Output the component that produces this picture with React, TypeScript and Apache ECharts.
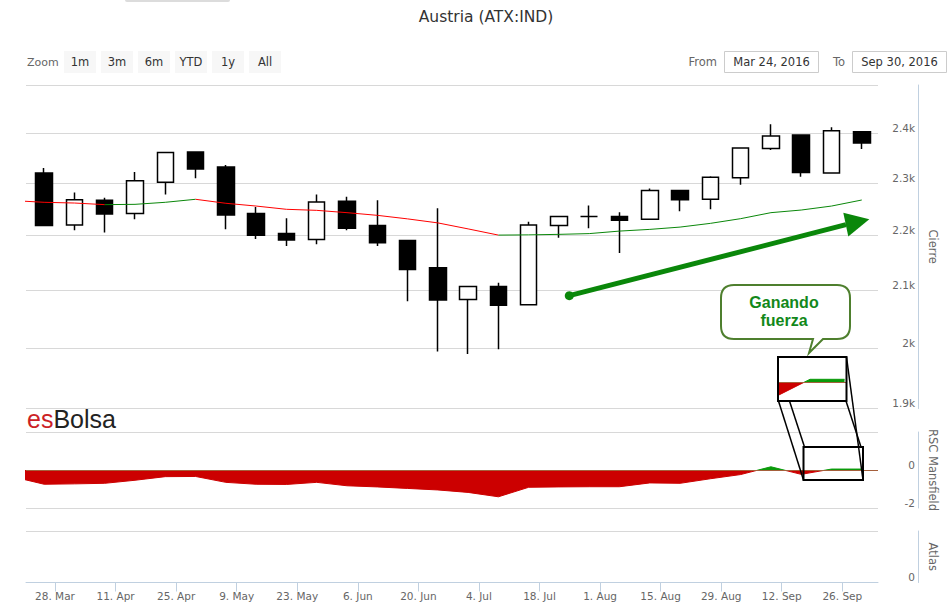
import React, { useEffect, useRef } from 'react';
import * as echarts from 'echarts';

// ---------- data ----------
const weekEnds = [
  '2016-03-25', '2016-04-01', '2016-04-08', '2016-04-15', '2016-04-22', '2016-04-29',
  '2016-05-06', '2016-05-13', '2016-05-20', '2016-05-27', '2016-06-03', '2016-06-10',
  '2016-06-17', '2016-06-24', '2016-07-01', '2016-07-08', '2016-07-15', '2016-07-22',
  '2016-07-29', '2016-08-05', '2016-08-12', '2016-08-19', '2016-08-26', '2016-09-02',
  '2016-09-09', '2016-09-16', '2016-09-23', '2016-09-30',
];
const prevWeek = '2016-03-18';

const openVals = [2320, 2220, 2267, 2242, 2302, 2362, 2332, 2242, 2204, 2193, 2265, 2219, 2191, 2141, 2084, 2107, 2075, 2219, 2236, 2236, 2231, 2286, 2269, 2311, 2369, 2396, 2320, 2403];
const closeVals = [2219, 2268, 2241, 2305, 2361, 2328, 2239, 2201, 2192, 2264, 2214, 2187, 2138, 2083, 2107, 2074, 2220, 2236, 2236, 2229, 2286, 2268, 2312, 2370, 2394, 2321, 2405, 2380];
const lowVals = [2219, 2210, 2206, 2231, 2278, 2310, 2212, 2194, 2181, 2184, 2210, 2181, 2081, 1994, 1990, 1998, 2075, 2196, 2214, 2168, 2230, 2246, 2250, 2297, 2366, 2313, 2319, 2368];
const highVals = [2330, 2282, 2272, 2322, 2361, 2362, 2336, 2254, 2233, 2278, 2274, 2267, 2191, 2252, 2108, 2114, 2226, 2237, 2257, 2244, 2290, 2286, 2314, 2370, 2418, 2396, 2412, 2404];

// moving average (first value = previous week, off the left edge)
const maVals = [2266.4, 2263.2, 2261.8, 2258.7, 2259.3, 2263.2, 2269.0, 2261.3, 2256.0, 2249.8, 2247.8, 2243.4, 2238.3, 2231.6, 2224.0, 2212.7, 2201.1, 2201.5, 2202.5, 2203.9, 2208.6, 2211.8, 2216.1, 2223.1, 2232.0, 2243.4, 2248.4, 2256.0, 2267.6];

// RSC Mansfield (first value = previous week)
const rscVals = [-0.37, -0.75, -0.73, -0.70, -0.54, -0.35, -0.34, -0.65, -0.75, -0.76, -0.65, -0.83, -0.89, -0.97, -1.05, -1.18, -1.41, -0.91, -0.89, -0.88, -0.88, -0.68, -0.70, -0.46, -0.24, 0.17, -0.23, 0.05, 0.05];

const xTickDates = ['2016-03-28', '2016-04-11', '2016-04-25', '2016-05-09', '2016-05-23', '2016-06-06', '2016-06-20', '2016-07-04', '2016-07-18', '2016-08-01', '2016-08-15', '2016-08-29', '2016-09-12', '2016-09-26'];
const priceTicks = [1900, 2000, 2100, 2200, 2300, 2400, 2500];
const priceLabels = [1900, 2000, 2100, 2200, 2300, 2400];
const rscTicks = [-2, 0, 2];
const rscLabels = [-2, 0];
const atlasTicks = [0, 1];
const atlasLabels = [0];
const zoomButtons = ['1m', '3m', '6m', 'YTD', '1y', 'All'];
const fromDate = 'Mar 24, 2016';
const toDate = 'Sep 30, 2016';
const chartTitle = 'Austria (ATX:IND)';
const months = ['Jan', 'Feb', 'Mar', 'Apr', 'May', 'Jun', 'Jul', 'Aug', 'Sep', 'Oct', 'Nov', 'Dec'];

// ---------- helpers ----------
const DAY = 864e5;
const ORIGIN = Date.parse('2016-03-28');
const dayOf = (s: string) => (Date.parse(s) - ORIGIN) / DAY;
const midDay = (s: string) => dayOf(s) + 0.5;
const ln = Math.log;

const X_MIN = -6.7;
const X_MAX = 190.25;
const INSET_X: [number, number] = [173.0, 186.9];
const INSET_Y: [number, number] = [-0.3, 0.41];

const UP_GREEN = '#0a870a';
const DOWN_RED = '#ff0000';
const AXIS_BLUE = '#C0D0E0';
const GRID_GRAY = '#D8D8D8';
const LABEL = '#666666';
const FONT = 'DejaVu Sans';

const bubblePath =
  'M734,285 L837,285 Q850,285 850,298 L850,326 Q850,339 837,339 L823,339 L809,353 L813,339 L734,339 Q721,339 721,326 L721,298 Q721,285 734,285 Z';
echarts.graphic.registerShape('bubble', echarts.graphic.extendPath(bubblePath, {}) as any);

function buildOption(): any {
  const allWeeks = [prevWeek, ...weekEnds];
  const candles = weekEnds.map((d, i) => [midDay(d), ln(openVals[i]), ln(closeVals[i]), ln(lowVals[i]), ln(highVals[i])]);
  const maPts = allWeeks.map((d, i) => [midDay(d), ln(maVals[i])]);
  const rscPts = allWeeks.map((d, i) => [midDay(d), rscVals[i]]);

  const runs: { up: boolean; pts: number[][] }[] = [];
  for (let i = 0; i < maPts.length - 1; i++) {
    const up = maVals[i + 1] >= maVals[i];
    const last = runs[runs.length - 1];
    if (last && last.up === up) last.pts.push(maPts[i + 1]);
    else runs.push({ up, pts: [maPts[i], maPts[i + 1]] });
  }

  const tickDays = xTickDates.map(dayOf);
  const fmtDate = (v: number) => {
    const d = new Date(ORIGIN + Math.round(v) * DAY);
    return `${d.getUTCDate()}. ${months[d.getUTCMonth()]}`;
  };
  const fmtK = (v: number) => `${Math.round(Math.exp(v) / 100) / 10}k`;

  const yCommon = (name: string) => ({
    type: 'value',
    position: 'right',
    offset: 40,
    axisLine: { show: true, onZero: false, lineStyle: { color: AXIS_BLUE, width: 1 } },
    splitLine: { show: true, lineStyle: { color: GRID_GRAY, width: 1 } },
    name,
    nameLocation: 'middle',
    nameRotate: -90,
    nameGap: 8,
    nameTextStyle: { color: LABEL, fontSize: 11.5, fontFamily: FONT },
  });
  const labelCommon = {
    inside: true,
    color: LABEL,
    fontSize: 10.5,
    fontFamily: FONT,
    margin: 3,
    verticalAlign: 'bottom',
    showMinLabel: true,
    showMaxLabel: true,
  };

  const series: any[] = [];
  series.push({
    type: 'candlestick',
    xAxisIndex: 0,
    yAxisIndex: 0,
    data: candles,
    barWidth: 17,
    itemStyle: {
      color: '#ffffff',
      color0: '#000000',
      borderColor: '#000000',
      borderColor0: '#000000',
      borderColorDoji: '#000000',
      borderWidth: 1.5,
    },
    silent: true,
  });
  runs.forEach((r) => {
    series.push({
      type: 'line',
      xAxisIndex: 0,
      yAxisIndex: 0,
      data: r.pts,
      symbol: 'none',
      silent: true,
      lineStyle: { color: r.up ? UP_GREEN : DOWN_RED, width: 1 },
      z: 3,
    });
  });
  const zeroMark = () => ({
    silent: true,
    symbol: 'none',
    label: { show: false },
    lineStyle: { color: '#a5603c', width: 1, type: 'solid' },
    data: [{ yAxis: 0 }],
  });
  const rscIdx = series.length;
  series.push({
    type: 'line',
    xAxisIndex: 1,
    yAxisIndex: 1,
    data: rscPts,
    symbol: 'none',
    silent: true,
    lineStyle: { width: 1 },
    areaStyle: { origin: 0, opacity: 1 },
    markLine: zeroMark(),
  });
  const insetIdx = series.length;
  series.push({
    type: 'line',
    xAxisIndex: 3,
    yAxisIndex: 3,
    data: rscPts,
    symbol: 'none',
    silent: true,
    lineStyle: { width: 1 },
    areaStyle: { origin: 0, opacity: 1 },
    markLine: zeroMark(),
  });

  // ----- graphics (annotations and page chrome) -----
  const g: any[] = [];
  g.push({ type: 'rect', shape: { x: 125, y: -3, width: 105, height: 5, r: 2 }, style: { fill: '#dcdcdc' } });
  g.push({
    type: 'text', x: 486, y: 17,
    style: { text: chartTitle, fill: '#333333', font: `15.5px "${FONT}"`, align: 'center', verticalAlign: 'middle' },
  });
  g.push({
    type: 'text', x: 27, y: 62,
    style: { text: 'Zoom', fill: LABEL, font: `11px "${FONT}"`, align: 'left', verticalAlign: 'middle' },
  });
  zoomButtons.forEach((b, i) => {
    const x = 64 + i * 37;
    g.push({ type: 'rect', shape: { x, y: 51, width: 32, height: 22 }, style: { fill: '#f7f7f7' } });
    g.push({
      type: 'text', x: x + 16, y: 61.5,
      style: { text: b, fill: '#333333', font: `11.5px "${FONT}"`, align: 'center', verticalAlign: 'middle' },
    });
  });
  g.push({
    type: 'text', x: 717, y: 61.5,
    style: { text: 'From', fill: LABEL, font: `11.5px "${FONT}"`, align: 'right', verticalAlign: 'middle' },
  });
  g.push({ type: 'rect', shape: { x: 724.5, y: 51.5, width: 94, height: 21 }, style: { fill: '#ffffff', stroke: '#cccccc', lineWidth: 1 } });
  g.push({
    type: 'text', x: 771.5, y: 62,
    style: { text: fromDate, fill: '#333333', font: `11.5px "${FONT}"`, align: 'center', verticalAlign: 'middle' },
  });
  g.push({
    type: 'text', x: 845, y: 61.5,
    style: { text: 'To', fill: LABEL, font: `11.5px "${FONT}"`, align: 'right', verticalAlign: 'middle' },
  });
  g.push({ type: 'rect', shape: { x: 852.5, y: 51.5, width: 94, height: 21 }, style: { fill: '#ffffff', stroke: '#cccccc', lineWidth: 1 } });
  g.push({
    type: 'text', x: 899.5, y: 62,
    style: { text: toDate, fill: '#333333', font: `11.5px "${FONT}"`, align: 'center', verticalAlign: 'middle' },
  });
  // logo
  g.push({
    type: 'text', x: 27, y: 419,
    style: {
      text: '{a|es}{b|Bolsa}',
      align: 'left',
      verticalAlign: 'middle',
      rich: {
        a: { fill: '#cc1f26', fontSize: 25, fontFamily: 'Liberation Sans' },
        b: { fill: '#222222', fontSize: 25, fontFamily: 'Liberation Sans' },
      },
    },
  });
  // green arrow
  g.push({ type: 'line', shape: { x1: 569.3, y1: 295.7, x2: 846, y2: 224.7 }, style: { stroke: UP_GREEN, lineWidth: 5 } });
  g.push({ type: 'circle', shape: { cx: 569.3, cy: 295.7, r: 4.5 }, style: { fill: UP_GREEN } });
  g.push({ type: 'polygon', shape: { points: [[869.3, 219.3], [843.3, 212.8], [848.3, 236.5]] }, style: { fill: UP_GREEN } });
  // speech bubble
  g.push({ type: 'bubble', x: 0, y: 0, style: { fill: '#ffffff', stroke: '#4e7f2e', lineWidth: 2 } });
  g.push({
    type: 'text', x: 784, y: 302,
    style: { text: 'Ganando', fill: '#12881a', font: `bold 16px "Liberation Sans"`, align: 'center', verticalAlign: 'middle' },
  });
  g.push({
    type: 'text', x: 784, y: 320.5,
    style: { text: 'fuerza', fill: '#12881a', font: `bold 16px "Liberation Sans"`, align: 'center', verticalAlign: 'middle' },
  });
  // zoom inset boxes and connectors
  g.push({ type: 'rect', shape: { x: 778, y: 357, width: 68.5, height: 44 }, style: { fill: 'none', stroke: '#000', lineWidth: 2 } });
  g.push({ type: 'rect', shape: { x: 803.5, y: 447, width: 59.5, height: 33 }, style: { fill: 'none', stroke: '#000', lineWidth: 2 } });
  const conn = [
    [778.5, 401, 803.5, 480],
    [789.5, 401, 804.5, 447],
    [846.5, 357, 863, 480],
    [846, 401, 861, 447],
  ];
  conn.forEach(([x1, y1, x2, y2]) => {
    g.push({ type: 'line', shape: { x1, y1, x2, y2 }, style: { stroke: '#000', lineWidth: 1.5 } });
  });
  g.forEach((e) => { e.z = 100; e.silent = true; });

  return {
    animation: false,
    backgroundColor: '#ffffff',
    textStyle: { fontFamily: FONT },
    grid: [
      { left: 26, top: 85, width: 852, height: 323.5, outerBoundsMode: 'none' },
      { left: 26, top: 432, width: 852, height: 76, outerBoundsMode: 'none' },
      { left: 26, top: 531, width: 852, height: 51.5, outerBoundsMode: 'none' },
      { left: 778, top: 357, width: 68.5, height: 44, outerBoundsMode: 'none' },
    ],
    xAxis: [
      { gridIndex: 0, type: 'value', min: X_MIN, max: X_MAX, show: false, axisLine: { onZero: false } },
      { gridIndex: 1, type: 'value', min: X_MIN, max: X_MAX, show: false, axisLine: { onZero: false } },
      {
        gridIndex: 2, type: 'value', min: X_MIN, max: X_MAX,
        axisLine: { show: true, onZero: false, lineStyle: { color: AXIS_BLUE, width: 1 } },
        axisTick: { show: true, length: 9, customValues: tickDays, lineStyle: { color: AXIS_BLUE, width: 1 } },
        axisLabel: { customValues: tickDays, formatter: fmtDate, color: LABEL, fontSize: 10.5, fontFamily: FONT, margin: 8 },
        splitLine: { show: false },
      },
      { gridIndex: 3, type: 'value', min: INSET_X[0], max: INSET_X[1], show: false, axisLine: { onZero: false } },
    ],
    yAxis: [
      {
        ...yCommon('Cierre'),
        gridIndex: 0,
        min: ln(priceTicks[0]),
        max: ln(priceTicks[priceTicks.length - 1]),
        axisTick: { show: false, customValues: priceTicks.map(ln) },
        axisLabel: { ...labelCommon, customValues: priceLabels.map(ln), formatter: fmtK },
      },
      {
        ...yCommon('RSC Mansfield'),
        gridIndex: 1,
        min: rscTicks[0],
        max: rscTicks[rscTicks.length - 1],
        axisTick: { show: false, customValues: rscTicks },
        axisLabel: { ...labelCommon, customValues: rscLabels },
      },
      {
        ...yCommon('Atlas'),
        gridIndex: 2,
        min: atlasTicks[0],
        max: atlasTicks[atlasTicks.length - 1],
        axisTick: { show: false, customValues: atlasTicks },
        axisLabel: { ...labelCommon, customValues: atlasLabels },
      },
      { gridIndex: 3, type: 'value', min: INSET_Y[0], max: INSET_Y[1], show: false, axisLine: { onZero: false } },
    ],
    visualMap: {
      type: 'piecewise',
      show: false,
      dimension: 1,
      seriesIndex: [rscIdx, insetIdx],
      pieces: [
        { gte: -10, lt: 0, color: '#cc0000' },
        { gte: 0, lte: 10, color: '#0a9a0a' },
      ],
      outOfRange: { color: '#cc0000' },
    },
    series,
    graphic: g,
  };
}

export default function App() {
  const ref = useRef<HTMLDivElement>(null);
  useEffect(() => {
    if (!ref.current) return;
    const chart = echarts.init(ref.current, undefined, { renderer: 'svg' });
    chart.setOption(buildOption());
    return () => chart.dispose();
  }, []);
  return (
    <div
      ref={ref}
      style={{ position: 'fixed', left: 0, top: 0, width: 950, height: 612, background: '#fff' }}
    />
  );
}
